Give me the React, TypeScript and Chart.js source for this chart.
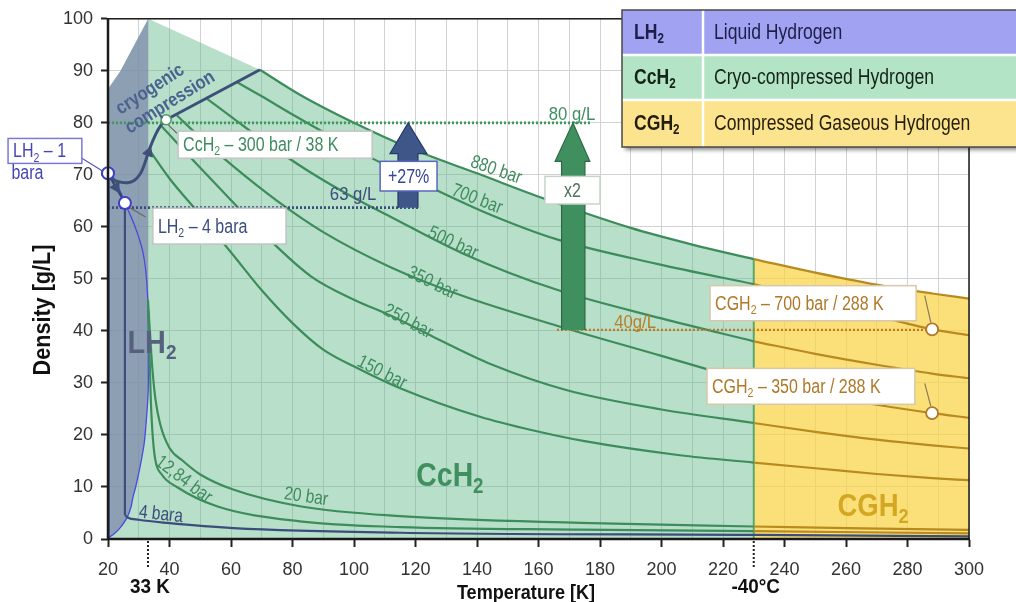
import React, { useEffect, useRef } from "react";
import { Chart, registerables } from "chart.js";

Chart.register(...registerables);

type Pt = [number, number];

// ---------- axis ticks ----------
const xTickLabels = [20, 40, 60, 80, 100, 120, 140, 160, 180, 200, 220, 240, 260, 280, 300];
const yTickLabels = [0, 10, 20, 30, 40, 50, 60, 70, 80, 90, 100];

// ---------- region boundaries (T [K], density [g/L]) ----------
const lh2TopEdge: Pt[] = [[20, 86.5], [24, 89.9], [33.1, 100]];
const liquidLine: Pt[] = [[20, 70.8], [22, 69.2], [24, 66.8], [25.5, 64.6], [27, 62.6], [28.5, 60.5], [30, 58], [31.4, 55], [32.3, 51.5], [32.9, 46.5], [33.1, 40], [33.1, 33]];
const vaporLine: Pt[] = [[33.1, 33], [33.1, 29], [32.7, 24.7], [31.8, 18.5], [30.4, 13.8], [29, 10], [28.1, 8], [27.5, 6.2], [26.2, 4.1], [24, 2.2], [22, 1.0], [20, 0.2]];

// ---------- isobars, cryo-compressed part (T <= 230 K) ----------
const bar880: Pt[] = [[69.4, 90.2], [82.4, 85.4], [100, 80.0], [118.2, 75.1], [140, 70.3], [161.5, 65.5], [190, 59.8], [210, 56.6], [230, 53.8]];
const bar700: Pt[] = [[62, 87.8], [70, 85.1], [80, 81.6], [100, 75.0], [125.7, 67.4], [145, 62.2], [166, 57.6], [198.5, 52.9], [230, 49.0]];
const bar500: Pt[] = [[52, 84.7], [60, 81.2], [70, 76.8], [85, 70.8], [100, 65.6], [111.7, 62.0], [135, 55.0], [166, 47.9], [200, 42.4], [230, 38.0]];
const bar350: Pt[] = [[42.4, 81.4], [50, 77.2], [60, 72.0], [75, 65.0], [90, 59.0], [111.7, 52.3], [135, 46.8], [166, 41.0], [200, 35.2], [230, 30.0]];
const bar250: Pt[] = [[37.5, 79.3], [45, 74.5], [56.4, 67.4], [70, 59.0], [86, 50.5], [100, 46.0], [111.7, 43.0], [125.7, 38.9], [145, 33.5], [169.3, 28.6], [200, 24.9], [230, 22.3]];
const bar150: Pt[] = [[33.2, 75.0], [40, 69.3], [50, 62.3], [60.7, 54.6], [70, 47.8], [80, 41.5], [90, 36.4], [102, 32.6], [115, 29.0], [141, 23.5], [158, 20.9], [175, 18.8], [206, 16.1], [230, 14.7]];
const bar20: Pt[] = [[33, 46], [33.6, 40], [34.4, 33], [35.4, 27], [37, 22], [40, 17.5], [44.4, 15.0], [50, 12.4], [60.7, 9.5], [82.4, 6.3], [115, 4.4], [173.5, 3.1], [230, 2.4]];
const bar1284: Pt[] = [[33.1, 44], [33.5, 36], [33.9, 27], [34.4, 21], [35.3, 15.5], [37.5, 12.4], [42.4, 10], [55.4, 6.3], [82.4, 3.4], [115, 2.3], [173, 1.8], [230, 1.5]];

// ---------- isobars, compressed gas part (T >= 230 K) ----------
const gas880: Pt[] = [[230, 53.8], [250, 51.2], [268.8, 49.0], [288, 47.2], [300, 46.2]];
const gas700: Pt[] = [[230, 49.0], [250, 46.0], [270, 42.9], [288, 40.3], [300, 39.2]];
const gas500: Pt[] = [[230, 38.0], [250, 35.6], [270, 33.5], [288, 31.8], [300, 30.9]];
const gas350: Pt[] = [[230, 30.0], [250, 27.9], [270, 25.8], [288, 24.2], [300, 23.3]];
const gas250: Pt[] = [[230, 22.3], [250, 20.6], [270, 19.1], [288, 18.0], [300, 17.4]];
const gas150: Pt[] = [[230, 14.7], [250, 13.6], [270, 12.5], [288, 11.7], [300, 11.3]];
const gas20: Pt[] = [[230, 2.4], [265, 2.05], [300, 1.75]];
const gas1284: Pt[] = [[230, 1.5], [265, 1.3], [300, 1.1]];

// ---------- liquid / low pressure lines ----------
const bara4Liquid: Pt[] = [[25.5, 64.6], [25.5, 4.6]];
const bara4Gas: Pt[] = [[25.5, 4.6], [26.5, 4.1], [30, 3.7], [39.2, 3.1], [60.7, 2.1], [115, 1.2], [230, 0.8], [300, 0.5]];
const bara1Liquid: Pt[] = [[20, 70.3], [20, 0]];
const cgBoundary: Pt[] = [[230, 0], [230, 53.8]];

// ---------- cryogenic compression path ----------
const cryoCurve: Pt[] = [[20, 70.3], [22, 69.0], [24, 68.6], [26.5, 68.5], [28.5, 68.9], [30.5, 70.2], [32, 72.3], [33.5, 75], [35.5, 77.8], [37.3, 79.6], [38.9, 80.6]];
const cryoStraight: Pt[] = [[38.9, 80.6], [69.4, 90.2]];
const lh2Transfer: Pt[] = [[20, 70.3], [25.2, 65.0]];
const arrowHeads: Pt[] = [[33.2, 74.3], [22.6, 67.6]];
const arrowHeadAngles = [20, 150];

// ---------- reference densities ----------
const line80: Pt[] = [[20, 80], [177, 80]];
const line63: Pt[] = [[20, 63.7], [121.5, 63.7]];
const line40: Pt[] = [[166, 40.2], [288, 40.2]];

// ---------- block arrows ----------
const arrow27: Pt[] = [[114.3, 63.7], [114.3, 74.1], [111.7, 74.1], [117.6, 80], [123.7, 74.1], [120.8, 74.1], [120.8, 63.7]];
const arrowX2: Pt[] = [[167.5, 40.2], [167.5, 72.6], [165.4, 72.6], [171.2, 80], [176.7, 72.6], [175.1, 72.6], [175.1, 40.2]];

// ---------- state points ----------
const lh2Points: Pt[] = [[20, 70.3], [25.5, 64.6]];
const cch2Point: Pt[] = [[38.9, 80.6]];
const cgh2Points: Pt[] = [[288, 40.3], [288, 24.2]];

// ---------- leader lines ----------
const leaderLH1: Pt[] = [[11.5, 73.2], [18.6, 70.6]];
const leaderLH4: Pt[] = [[26.8, 63.8], [32.2, 61.9]];
const leaderCc: Pt[] = [[39.6, 79.6], [42.4, 78.0]];
const leader700: Pt[] = [[285.6, 46.8], [287.6, 41.6]];
const leader350: Pt[] = [[285.6, 29.9], [287.6, 25.5]];

// ---------- texts ----------
const isobarLabels = [
  { text: "880 bar", t: 146.2, r: 70.9, rot: 19 },
  { text: "700 bar", t: 140.0, r: 65.3, rot: 21 },
  { text: "500 bar", t: 132.2, r: 56.9, rot: 25 },
  { text: "350 bar", t: 125.4, r: 49.2, rot: 26 },
  { text: "250 bar", t: 117.6, r: 41.8, rot: 28 },
  { text: "150 bar", t: 109.1, r: 32.0, rot: 27 },
  { text: "20 bar", t: 84.4, r: 8.1, rot: 8 },
  { text: "12,84 bar", t: 44.6, r: 11.4, rot: 37 },
];
const baraLabel = { text: "4 bara", t: 37.2, r: 4.7, rot: 6 };
const densityLabels = [
  { text: "80 g/L", t: 170.9, r: 81.5, color: "#3f9060" },
  { text: "63 g/L", t: 99.7, r: 66.2, color: "#3b4d7c" },
  { text: "40g/L", t: 191.4, r: 41.5, color: "#b8802a" },
];
const cryoLabels = [
  { text: "cryogenic", t: 33.7, r: 86.4, rot: -33 },
  { text: "compression", t: 40.2, r: 83.9, rot: -32 },
];
const regionLabels = [
  { text: "LH₂", t: 34.3, r: 37.5, color: "#56617f", size: 32, sx: 0.9 },
  { text: "CcH₂", t: 131.2, r: 11.9, color: "#3f8f5f", size: 33, sx: 0.86 },
  { text: "CGH₂", t: 268.8, r: 6.1, color: "#d3a722", size: 32, sx: 0.86 },
];
const labelBoxes = [
  { text: "LH₂ – 1", t0: -12.5, t1: 11.5, r0: 77.0, r1: 72.2, color: "#4646b4", border: "#7a7ad6", align: "left" },
  { text: "LH₂ – 4 bara", t0: 34.6, t1: 77.9, r0: 63.6, r1: 56.7, color: "#3b4d7c", border: "#c4c4c4", align: "left" },
  { text: "CcH₂ – 300 bar / 38 K", t0: 42.8, t1: 105.9, r0: 78.4, r1: 73.2, color: "#3f8c5e", border: "#c4c4c4", align: "left" },
  { text: "+27%", t0: 108.5, t1: 127.0, r0: 72.6, r1: 66.9, color: "#34469a", border: "#5a66c0", align: "center" },
  { text: "x2", t0: 162.1, t1: 180.0, r0: 69.7, r1: 64.4, color: "#51705e", border: "#c8d4c8", align: "center" },
  { text: "CGH₂ – 700 bar / 288 K", t0: 215.8, t1: 282.8, r0: 48.7, r1: 41.95, color: "#b07828", border: "#d8c8a8", align: "left" },
  { text: "CGH₂ – 350 bar / 288 K", t0: 214.8, t1: 282.4, r0: 32.8, r1: 25.9, color: "#b07828", border: "#d8c8a8", align: "left" },
];
const baraText = { text: "bara", t: -11.4, r: 70.3 };
const legendRows = [
  { abbr: "LH₂", name: "Liquid Hydrogen", bg: "#a1a3f2", color: "#1e1e48" },
  { abbr: "CcH₂", name: "Cryo-compressed Hydrogen", bg: "#b3e4c5", color: "#142418" },
  { abbr: "CGH₂", name: "Compressed Gaseous Hydrogen", bg: "#fce38d", color: "#241e0c" },
];
const xTitle = "Temperature [K]";
const yTitle = "Density [g/L]";
const extraXLabels = [
  { text: "33 K", t: 33 },
  { text: "-40°C", t: 230 },
];

// ---------- styling ----------
const FONT = '"Liberation Sans", Arial, Helvetica, sans-serif';
const GREEN = "#3d8d5c";
const GOLD = "#b88a20";
const SLATE = "#3b4d7c";
const NONE = "rgba(0,0,0,0)";

const xy = (a: Pt[]) => a.map(([x, y]) => ({ x, y }));

function lineDs(data: Pt[], color: string, width: number, order: number, extra: any = {}) {
  return {
    data: xy(data),
    borderColor: color,
    backgroundColor: color,
    borderWidth: width,
    pointRadius: 0,
    pointHoverRadius: 0,
    fill: false,
    tension: 0,
    order,
    ...extra,
  };
}
const mono = { cubicInterpolationMode: "monotone" };

function drawRich(ctx: CanvasRenderingContext2D, text: string, x: number, y: number, o: any) {
  ctx.save();
  ctx.translate(x, y);
  if (o.rot) ctx.rotate((o.rot * Math.PI) / 180);
  ctx.scale(o.sx ?? 1, 1);
  const w = o.weight ?? "normal";
  const mainF = `${w} ${o.size}px ${FONT}`;
  const subF = `${w} ${o.size * 0.66}px ${FONT}`;
  const parts = text.split("₂");
  const segs: { t: string; sub: boolean }[] = [];
  parts.forEach((p, i) => {
    if (p) segs.push({ t: p, sub: false });
    if (i < parts.length - 1) segs.push({ t: "2", sub: true });
  });
  let total = 0;
  for (const s of segs) {
    ctx.font = s.sub ? subF : mainF;
    total += ctx.measureText(s.t).width;
  }
  let cx = o.align === "center" ? -total / 2 : o.align === "right" ? -total : 0;
  ctx.textBaseline = "middle";
  ctx.fillStyle = o.color;
  for (const s of segs) {
    ctx.font = s.sub ? subF : mainF;
    ctx.fillText(s.t, cx, s.sub ? o.size * 0.3 : 0);
    cx += ctx.measureText(s.t).width;
  }
  ctx.restore();
}

const annotationPlugin = {
  id: "h2annotations",
  afterDatasetsDraw(chart: any) {
    const ctx: CanvasRenderingContext2D = chart.ctx;
    const xs = chart.scales.x;
    const ys = chart.scales.y;
    const X = (t: number) => xs.getPixelForValue(t);
    const Y = (r: number) => ys.getPixelForValue(r);
    const a = chart.chartArea;

    // frame
    ctx.save();
    ctx.strokeStyle = "#1a1a1a";
    ctx.lineWidth = 1.5;
    ctx.strokeRect(a.left, a.top, a.right - a.left, a.bottom - a.top);
    ctx.lineWidth = 2.5;
    ctx.beginPath();
    ctx.moveTo(a.left, a.top);
    ctx.lineTo(a.left, a.bottom);
    ctx.lineTo(a.right, a.bottom);
    ctx.stroke();
    ctx.restore();

    for (const l of regionLabels) {
      drawRich(ctx, l.text, X(l.t), Y(l.r), { size: l.size, weight: "bold", color: l.color, align: "center", sx: l.sx });
    }
    for (const l of cryoLabels) {
      drawRich(ctx, l.text, X(l.t), Y(l.r), { size: 19, weight: "bold", color: "#4a6290", align: "center", sx: 0.86, rot: l.rot });
    }
    for (const l of isobarLabels) {
      drawRich(ctx, l.text, X(l.t), Y(l.r), { size: 19, color: "#3f8c5e", align: "center", sx: 0.82, rot: l.rot });
    }
    drawRich(ctx, baraLabel.text, X(baraLabel.t), Y(baraLabel.r), { size: 19, color: SLATE, align: "center", sx: 0.82, rot: baraLabel.rot });
    for (const l of densityLabels) {
      drawRich(ctx, l.text, X(l.t), Y(l.r), { size: 19, color: l.color, align: "center", sx: 0.88 });
    }
    for (const b of labelBoxes) {
      const x0 = X(b.t0), x1 = X(b.t1), y0 = Y(b.r0), y1 = Y(b.r1);
      ctx.save();
      ctx.fillStyle = "#ffffff";
      ctx.fillRect(x0, y0, x1 - x0, y1 - y0);
      ctx.strokeStyle = b.border;
      ctx.lineWidth = 1.5;
      ctx.strokeRect(x0, y0, x1 - x0, y1 - y0);
      ctx.restore();
      const cx = b.align === "center" ? (x0 + x1) / 2 : x0 + 5;
      drawRich(ctx, b.text, cx, (y0 + y1) / 2 + 1, { size: 20, color: b.color, align: b.align, sx: 0.8 });
    }
    drawRich(ctx, baraText.text, X(baraText.t), Y(baraText.r), { size: 20, color: "#4646b4", align: "left", sx: 0.8 });
  },
  afterDraw(chart: any) {
    const ctx: CanvasRenderingContext2D = chart.ctx;
    const xs = chart.scales.x;
    const a = chart.chartArea;

    // extra x labels with dotted markers
    for (const e of extraXLabels) {
      const px = xs.getPixelForValue(e.t);
      ctx.save();
      ctx.strokeStyle = "#222";
      ctx.lineWidth = 2;
      ctx.setLineDash([2, 2]);
      ctx.beginPath();
      ctx.moveTo(px, a.bottom + 2);
      ctx.lineTo(px, a.bottom + 30);
      ctx.stroke();
      ctx.restore();
      drawRich(ctx, e.text, px + 2, a.bottom + 48, { size: 21, weight: "bold", color: "#111", align: "center", sx: 0.9 });
    }

    // axis titles
    drawRich(ctx, xTitle, 526, 593, { size: 21, weight: "bold", color: "#111", align: "center", sx: 0.86 });
    drawRich(ctx, yTitle, 43, 310, { size: 24, weight: "bold", color: "#111", align: "center", sx: 0.9, rot: -90 });

    // legend table
    const L = 622, T = 10, R = 1030, split = 703;
    const rowH = [45, 45, 47];
    const H = rowH.reduce((s, v) => s + v, 0);
    ctx.save();
    ctx.shadowColor = "rgba(0,0,0,0.45)";
    ctx.shadowOffsetX = 3;
    ctx.shadowOffsetY = 3;
    ctx.shadowBlur = 4;
    ctx.fillStyle = "#ffffff";
    ctx.fillRect(L, T, R - L, H);
    ctx.restore();
    let y = T;
    legendRows.forEach((row, i) => {
      ctx.fillStyle = row.bg;
      ctx.fillRect(L, y, R - L, rowH[i]);
      const cy = y + rowH[i] / 2;
      drawRich(ctx, row.abbr, L + 12, cy, { size: 22, weight: "bold", color: row.color, align: "left", sx: 0.8 });
      drawRich(ctx, row.name, split + 11, cy, { size: 22, color: row.color, align: "left", sx: 0.8 });
      y += rowH[i];
    });
    ctx.save();
    ctx.strokeStyle = "#ffffff";
    ctx.lineWidth = 2.5;
    ctx.beginPath();
    ctx.moveTo(split, T);
    ctx.lineTo(split, T + H);
    ctx.moveTo(L, T + rowH[0]);
    ctx.lineTo(R, T + rowH[0]);
    ctx.moveTo(L, T + rowH[0] + rowH[1]);
    ctx.lineTo(R, T + rowH[0] + rowH[1]);
    ctx.stroke();
    ctx.strokeStyle = "#4a4a4a";
    ctx.lineWidth = 1.5;
    ctx.strokeRect(L, T, R - L, H);
    ctx.restore();
  },
};

function buildConfig(): any {
  const datasets: any[] = [
    // fills
    lineDs([...lh2TopEdge, ...bar880], NONE, 0, 100, { fill: "origin", backgroundColor: "rgba(95,185,135,0.45)" }),
    lineDs(gas880, NONE, 0, 99, { fill: "origin", backgroundColor: "rgba(250,212,70,0.72)" }),
    lineDs([...lh2TopEdge, ...vaporLine], NONE, 0, 98, { fill: "shape", backgroundColor: "rgba(125,135,170,0.72)" }),
    // boundaries
    lineDs(cgBoundary, "#5ba86c", 2, 60),
    lineDs([...liquidLine, ...vaporLine.slice(1)], "#4a4ae0", 1.3, 55, { tension: 0.3 }),
    // isobars (green)
    lineDs(bar880, GREEN, 2.2, 50, mono),
    lineDs(bar700, GREEN, 2.2, 50, mono),
    lineDs(bar500, GREEN, 2.2, 50, mono),
    lineDs(bar350, GREEN, 2.2, 50, mono),
    lineDs(bar250, GREEN, 2.2, 50, mono),
    lineDs(bar150, GREEN, 2.2, 50, mono),
    lineDs(bar20, GREEN, 2.2, 50, mono),
    lineDs(bar1284, GREEN, 2.2, 50, mono),
    // isobars (gold)
    lineDs(gas880, GOLD, 2.2, 50, mono),
    lineDs(gas700, GOLD, 2.2, 50, mono),
    lineDs(gas500, GOLD, 2.2, 50, mono),
    lineDs(gas350, GOLD, 2.2, 50, mono),
    lineDs(gas250, GOLD, 2.2, 50, mono),
    lineDs(gas150, GOLD, 2.2, 50, mono),
    lineDs(gas20, GOLD, 2.2, 50, mono),
    lineDs(gas1284, GOLD, 2.2, 50, mono),
    // low pressure
    lineDs(bara4Liquid, SLATE, 2.2, 48),
    lineDs(bara4Gas, SLATE, 2.2, 48, mono),
    lineDs(bara1Liquid, "#25259a", 3, 45),
    // reference density lines
    lineDs(line80, "#3f9a5e", 2.6, 36, { borderDash: [2, 2] }),
    lineDs(line63, SLATE, 2.6, 36, { borderDash: [2, 2] }),
    lineDs(line40, "#c07a24", 2.2, 36, { borderDash: [2, 2] }),
    // cryo compression path
    lineDs(cryoCurve, "#3d5078", 3, 40, { tension: 0.4 }),
    lineDs(cryoStraight, "#3d5078", 3, 40),
    lineDs(lh2Transfer, "#3a4666", 2.5, 40, { clip: false }),
    // block arrows
    lineDs(arrow27, "#263a66", 1.2, 25, { fill: "shape", backgroundColor: "#3e5688" }),
    lineDs(arrowX2, "#2b6a45", 1.2, 25, { fill: "shape", backgroundColor: "#3f8f5f" }),
    // leader lines
    lineDs(leaderLH1, "#5a5ab4", 1.3, 20, { clip: false }),
    lineDs(leaderLH4, "#6a6a6a", 1.2, 20),
    lineDs(leaderCc, "#6a6a6a", 1.2, 20),
    lineDs(leader700, "#8a7a5a", 1.2, 20),
    lineDs(leader350, "#8a7a5a", 1.2, 20),
    // arrow heads
    {
      data: xy(arrowHeads),
      showLine: false,
      pointStyle: "triangle",
      pointRadius: 6,
      pointRotation: arrowHeadAngles,
      pointBackgroundColor: "#3d5078",
      pointBorderColor: "#3d5078",
      pointBorderWidth: 1,
      order: 5,
      clip: false,
    },
    // state points
    {
      data: xy(lh2Points),
      showLine: false,
      pointRadius: 6,
      pointBorderWidth: 2,
      pointBackgroundColor: "#ffffff",
      pointBorderColor: "#3f3fc8",
      order: 1,
      clip: false,
    },
    {
      data: xy(cch2Point),
      showLine: false,
      pointRadius: 5,
      pointBorderWidth: 1.5,
      pointBackgroundColor: "#ffffff",
      pointBorderColor: "#4a9a5e",
      order: 1,
      clip: false,
    },
    {
      data: xy(cgh2Points),
      showLine: false,
      pointRadius: 6,
      pointBorderWidth: 1.8,
      pointBackgroundColor: "#ffffff",
      pointBorderColor: "#b07828",
      order: 1,
      clip: false,
    },
  ];

  return {
    type: "line",
    data: { datasets },
    options: {
      animation: false,
      responsive: true,
      maintainAspectRatio: false,
      events: [],
      layout: { padding: { left: 0, right: 47, top: 17, bottom: 0 } },
      plugins: { legend: { display: false }, tooltip: { enabled: false } },
      scales: {
        x: {
          type: "linear",
          min: 20,
          max: 300,
          afterFit: (s: any) => {
            s.height = 63;
          },
          ticks: {
            stepSize: 10,
            autoSkip: false,
            maxRotation: 0,
            padding: 12,
            color: "#333",
            font: { family: FONT, size: 18 },
            callback: (v: any) => (xTickLabels.includes(Number(v)) ? String(v) : ""),
          },
          grid: {
            color: "#d2d2d2",
            lineWidth: 1,
            tickLength: 8,
            tickWidth: 2,
            tickColor: (c: any) => (c.tick && xTickLabels.includes(c.tick.value) ? "#222" : NONE),
          },
          border: { display: true, color: "#1a1a1a", width: 2 },
        },
        y: {
          type: "linear",
          min: 0,
          max: 100,
          afterFit: (s: any) => {
            s.width = 108;
          },
          ticks: {
            stepSize: 10,
            padding: 8,
            color: "#333",
            font: { family: FONT, size: 18 },
            callback: (v: any) => (yTickLabels.includes(Number(v)) ? String(v) : ""),
          },
          grid: { color: "#d2d2d2", lineWidth: 1, tickLength: 7, tickWidth: 2, tickColor: "#222" },
          border: { display: true, color: "#1a1a1a", width: 2 },
        },
      },
    },
    plugins: [annotationPlugin],
  };
}

export default function App() {
  const ref = useRef<HTMLCanvasElement>(null);
  useEffect(() => {
    if (!ref.current) return;
    const chart = new Chart(ref.current, buildConfig());
    return () => chart.destroy();
  }, []);
  return (
    <div style={{ position: "absolute", left: 0, top: 0, width: 1016, height: 602, background: "#ffffff" }}>
      <canvas ref={ref} />
    </div>
  );
}
